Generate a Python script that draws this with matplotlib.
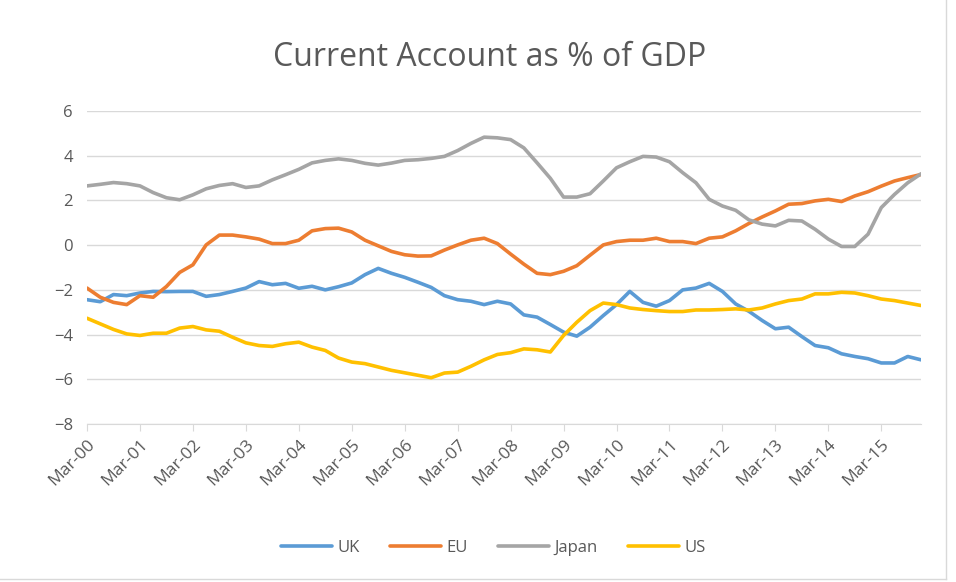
import matplotlib.pyplot as plt

# quarterly, Mar-00 .. Dec-15
quarters = [f"{m}-{y:02d}" for y in range(0, 16) for m in ("Mar", "Jun", "Sep", "Dec")]

uk = [-2.44, -2.53, -2.21, -2.26, -2.14, -2.07, -2.08, -2.07, -2.07, -2.29, -2.21, -2.07, -1.92, -1.63, -1.77, -1.71,
      -1.93, -1.84, -2.00, -1.86, -1.69, -1.32, -1.04, -1.26, -1.44, -1.66, -1.89, -2.26, -2.44, -2.51, -2.66, -2.51,
      -2.63, -3.12, -3.22, -3.55, -3.89, -4.07, -3.67, -3.15, -2.66, -2.07, -2.56, -2.73, -2.48, -2.00, -1.92, -1.71,
      -2.07, -2.63, -2.96, -3.37, -3.74, -3.67, -4.09, -4.49, -4.59, -4.86, -4.98, -5.08, -5.27, -5.27, -4.98, -5.13]

eu = [-1.92, -2.33, -2.56, -2.66, -2.26, -2.33, -1.85, -1.22, -0.88, 0.01, 0.45, 0.45, 0.37, 0.27, 0.07, 0.07,
      0.22, 0.64, 0.74, 0.76, 0.59, 0.22, -0.03, -0.28, -0.43, -0.49, -0.48, -0.22, 0.01, 0.22, 0.31, 0.07,
      -0.40, -0.85, -1.26, -1.32, -1.17, -0.92, -0.45, 0.01, 0.16, 0.22, 0.22, 0.31, 0.16, 0.16, 0.07, 0.31,
      0.37, 0.64, 0.97, 1.26, 1.53, 1.83, 1.86, 1.98, 2.05, 1.95, 2.20, 2.39, 2.64, 2.87, 3.02, 3.16]

japan = [2.65, 2.72, 2.80, 2.75, 2.65, 2.35, 2.12, 2.03, 2.25, 2.52, 2.67, 2.75, 2.58, 2.65, 2.92, 3.15,
         3.39, 3.68, 3.79, 3.86, 3.79, 3.66, 3.58, 3.67, 3.79, 3.82, 3.88, 3.97, 4.23, 4.55, 4.83, 4.80,
         4.72, 4.35, 3.68, 2.99, 2.15, 2.15, 2.30, 2.87, 3.46, 3.73, 3.97, 3.94, 3.73, 3.24, 2.79, 2.05,
         1.75, 1.56, 1.13, 0.94, 0.86, 1.11, 1.08, 0.71, 0.27, -0.06, -0.06, 0.49, 1.68, 2.27, 2.79, 3.19]

us = [-3.27, -3.52, -3.77, -3.97, -4.04, -3.94, -3.94, -3.71, -3.64, -3.79, -3.85, -4.12, -4.37, -4.49, -4.53, -4.41,
      -4.34, -4.56, -4.71, -5.05, -5.23, -5.30, -5.45, -5.60, -5.71, -5.82, -5.93, -5.72, -5.68, -5.42, -5.13, -4.89,
      -4.81, -4.64, -4.68, -4.78, -4.04, -3.45, -2.93, -2.59, -2.66, -2.81, -2.88, -2.93, -2.97, -2.97, -2.90, -2.90,
      -2.88, -2.85, -2.90, -2.81, -2.63, -2.48, -2.41, -2.18, -2.18, -2.11, -2.14, -2.26, -2.41, -2.48, -2.59, -2.70]

series = {"UK": uk, "EU": eu, "Japan": japan, "US": us}
colors = {"UK": "#5B9BD5", "EU": "#ED7D31", "Japan": "#A5A5A5", "US": "#FFC000"}

plt.rcParams['font.family'] = ['Open Sans', 'DejaVu Sans']
txt = "#595959"

fig = plt.figure(figsize=(9.56, 5.82), dpi=100)
ax = fig.add_axes([87 / 956, 1 - 424 / 582, (921 - 87) / 956, (424 - 111) / 582])

x = range(len(quarters))
for name, vals in series.items():
    ax.plot(x, vals, color=colors[name], linewidth=2.6, label=name, solid_capstyle='round')

ax.set_xlim(0, len(quarters) - 1)
ax.set_ylim(-8, 6)
ax.set_yticks(range(-8, 7, 2))
ax.set_xticks(range(0, len(quarters), 4))
ax.set_xticklabels(quarters[::4], rotation=45, ha='right', va='top', rotation_mode='anchor')
ax.tick_params(axis='y', length=0, labelsize=12, colors=txt, pad=10)
ax.tick_params(axis='x', length=5, color="#D9D9D9", labelsize=12.5, labelcolor=txt, pad=4)

ax.grid(axis='y', color="#D9D9D9", linewidth=1)
ax.set_axisbelow(True)
for s in ("top", "right", "left"):
    ax.spines[s].set_visible(False)
ax.spines["bottom"].set_color("#D9D9D9")

fig.text(490 / 956, 1 - 58 / 582, "Current Account as % of GDP", ha='center', va='center',
         fontsize=23, color=txt)

fig.legend(loc='center', bbox_to_anchor=(493 / 956, 1 - 548 / 582), ncol=4, frameon=False,
           fontsize=12, labelcolor=txt, handlelength=3.1, handletextpad=0.3, columnspacing=1.8)

# chart border
fig.add_artist(plt.Line2D([946 / 956, 946 / 956], [1 - 579 / 582, 1], color="#D9D9D9", linewidth=1))
fig.add_artist(plt.Line2D([0, 946 / 956], [1 - 579 / 582, 1 - 579 / 582], color="#D9D9D9", linewidth=1))

fig.savefig("out.png", dpi=100, facecolor="white")
